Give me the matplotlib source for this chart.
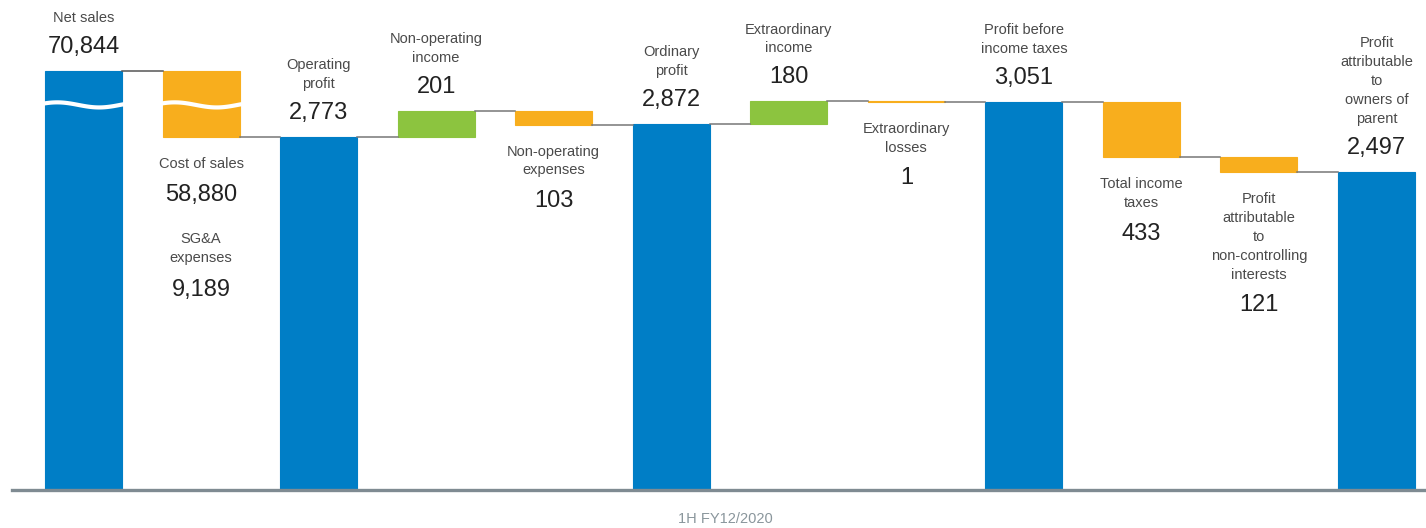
import numpy as np
import matplotlib.pyplot as plt

plt.rcParams['font.family'] = ['Liberation Sans', 'DejaVu Sans']

# waterfall data (million yen)
labels = ['Net sales', 'Cost of sales', 'Operating\nprofit', 'Non-operating\nincome',
          'Non-operating\nexpenses', 'Ordinary\nprofit', 'Extraordinary\nincome',
          'Extraordinary\nlosses', 'Profit before\nincome taxes', 'Total income\ntaxes',
          'Profit\nattributable\nto\nnon-controlling\ninterests',
          'Profit\nattributable\nto\nowners of\nparent']
values = [70844, 58880, 2773, 201, 103, 2872, 180, 1, 3051, 433, 121, 2497]
kinds = ['total', 'minus', 'total', 'plus', 'minus', 'total', 'plus', 'minus',
         'total', 'minus', 'minus', 'total']
sga_label = 'SG&A\nexpenses'
sga_value = 9189
period = '1H FY12/2020'
axis_cap = 3290   # net sales bar is cut here (broken axis)
break_at = 3025

BLUE = '#007EC6'
ORANGE = '#F8AE1D'
GREEN = '#8CC43F'
colors = {'total': BLUE, 'minus': ORANGE, 'plus': GREEN}

fig = plt.figure(figsize=(14.26, 5.28), dpi=100)
ax = fig.add_axes([12 / 1426, 38 / 528, 1414 / 1426, 490 / 528])

x = np.arange(len(values))
bw = 0.655
tops, bottoms, levels = [], [], []
level = 0
for i, (v, k) in enumerate(zip(values, kinds)):
    if k == 'total':
        lo, hi = 0, v
        level = v
    elif k == 'plus':
        lo, hi = level, level + v
        level = level + v
    else:
        d = v + sga_value if i == 1 else v
        lo, hi = level - d, level
        level = level - d
    tops.append(min(hi, axis_cap))
    bottoms.append(lo)
    levels.append(min(level, axis_cap))

tops = np.array(tops)
bottoms = np.array(bottoms)
ax.bar(x, tops - bottoms, bottom=bottoms, width=bw,
       color=[colors[k] for k in kinds], edgecolor=[colors[k] for k in kinds], linewidth=0.8)

# connectors
for i in range(len(values) - 1):
    ax.plot([x[i] + bw / 2, x[i + 1] - bw / 2], [levels[i], levels[i]],
            color='#555555' if i == 0 else '#777777', lw=1.1)

# axis break waves
for i in (0, 1):
    xs = np.linspace(x[i] - bw / 2 - 0.03, x[i] + bw / 2 + 0.03, 60)
    ys = break_at + 20 * np.sin((xs - xs[0]) / (xs[-1] - xs[0]) * 2 * np.pi + 0.4)
    ax.plot(xs, ys, color='white', lw=3, solid_capstyle='butt')

NAME_KW = dict(ha='center', fontsize=10.5, color='#4a4a4a', linespacing=1.45,
               textcoords='offset pixels')
VAL_KW = dict(ha='center', va='center', fontsize=17, color='#222222',
              textcoords='offset pixels')

for i, (lab, v, k) in enumerate(zip(labels, values, kinds)):
    if k in ('total', 'plus'):
        y0 = tops[i]
        ax.annotate(f'{v:,}', (x[i], y0), xytext=(0, 24), **VAL_KW)
        ax.annotate(lab, (x[i], y0), xytext=(0, 46), va='bottom', **NAME_KW)
    else:
        y0 = bottoms[i]
        ax.annotate(lab, (x[i], y0), xytext=(0, -20), va='top', **NAME_KW)
        nlines = lab.count('\n') + 1
        ax.annotate(f'{v:,}', (x[i], y0), xytext=(0, -26 - 18.8 * (nlines - 1) - 32), **VAL_KW)

# SG&A under cost of sales
ax.annotate(sga_label, (x[1], bottoms[1]), xytext=(0, -95), va='top', **NAME_KW)
ax.annotate(f'{sga_value:,}', (x[1], bottoms[1]), xytext=(0, -153), **VAL_KW)

ax.set_xlim(-0.6085, 11.421)
ax.set_ylim(0, 3849)
for s in ('top', 'left', 'right'):
    ax.spines[s].set_visible(False)
ax.spines['bottom'].set_color('#7F8B92')
ax.spines['bottom'].set_linewidth(2.4)
ax.set_xticks([])
ax.set_yticks([])

fig.text(725 / 1426, 1 - 519 / 528, period, ha='center', va='center',
         fontsize=10.5, color='#8A969C')

fig.savefig('out.png', dpi=100)
